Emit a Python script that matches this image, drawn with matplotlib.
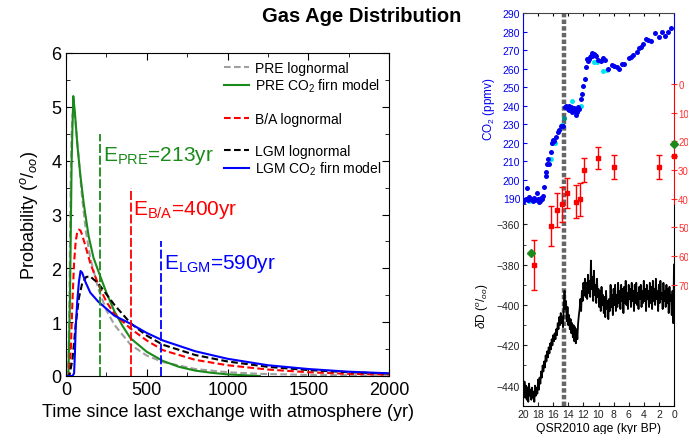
import matplotlib
matplotlib.use("Agg")
import matplotlib.pyplot as plt
from matplotlib.lines import Line2D
from matplotlib.ticker import MultipleLocator

plt.rcParams['font.family'] = ['Liberation Sans', 'DejaVu Sans']
plt.rcParams['mathtext.fontset'] = 'custom'
plt.rcParams['mathtext.rm'] = 'Liberation Sans'
plt.rcParams['mathtext.it'] = 'Liberation Sans:italic'
plt.rcParams['mathtext.bf'] = 'Liberation Sans:bold'

# ---------------- left panel data (years, probability per mil) ----------------
pre_logn_t = [0, 10, 15, 20, 25, 30, 35, 40, 50, 60, 80, 100, 125, 150, 200, 250, 300, 400, 500, 600, 800, 1000, 1200, 1500, 2000]
pre_logn_p = [0, 0, 0.3, 1.2, 2.6, 3.8, 4.5, 4.85, 4.95, 4.7, 4.0, 3.3, 2.65, 2.2, 1.62, 1.22, 0.95, 0.58, 0.38, 0.26, 0.13, 0.07, 0.04, 0.02, 0.01]

pre_firn_t = [0, 15, 25, 35, 45, 55, 70, 90, 110, 140, 170, 200, 250, 300, 350, 400, 500, 600, 700, 800, 900, 1000, 1100, 1200]
pre_firn_p = [0, 0, 1.5, 4.0, 5.2, 4.9, 4.3, 3.7, 3.2, 2.6, 2.2, 1.95, 1.55, 1.2, 0.93, 0.7, 0.45, 0.28, 0.17, 0.1, 0.06, 0.03, 0.015, 0.0]

ba_logn_t = [0, 20, 30, 40, 50, 60, 70, 80, 90, 100, 120, 150, 200, 250, 300, 400, 500, 600, 800, 1000, 1250, 1500, 1750, 2000]
ba_logn_p = [0, 0, 0.5, 1.4, 2.1, 2.5, 2.68, 2.72, 2.7, 2.62, 2.42, 2.1, 1.7, 1.38, 1.15, 0.88, 0.66, 0.48, 0.3, 0.2, 0.12, 0.07, 0.04, 0.025]

lgm_logn_t = [0, 20, 40, 60, 80, 100, 125, 150, 200, 250, 300, 400, 500, 600, 800, 1000, 1250, 1500, 1750, 2000]
lgm_logn_p = [0, 0, 0.3, 0.95, 1.45, 1.72, 1.84, 1.85, 1.72, 1.52, 1.32, 0.98, 0.75, 0.58, 0.39, 0.27, 0.17, 0.11, 0.07, 0.045]

lgm_firn_t = [0, 40, 50, 55, 60, 70, 80, 90, 100, 120, 150, 200, 250, 300, 400, 500, 600, 800, 1000, 1250, 1500, 1750, 2000]
lgm_firn_p = [0, 0, 0.05, 0.4, 0.9, 1.4, 1.75, 1.95, 1.92, 1.75, 1.55, 1.38, 1.25, 1.12, 0.97, 0.8, 0.66, 0.46, 0.32, 0.2, 0.13, 0.08, 0.05]

mean_ages = [213, 400, 590]
mean_tops = [4.5, 3.5, 2.5]
mean_names = ['PRE', 'B/A', 'LGM']
mean_colors = ['#1a8a1a', '#ff0000', '#0000ff']
mean_label_y = [4.1, 3.1, 2.1]

# ---------------- right panel data (kyr BP) ----------------
co2_age = [19.87, 19.5, 19.6, 19.2, 18.9, 18.5, 18.2, 18.05, 17.75, 17.5,
           17.3, 17.2, 16.95, 16.9, 16.8, 16.5, 16.3, 16.2, 15.9, 15.6,
           15.4, 15.2, 15.0, 14.75, 14.3, 13.95, 13.7, 13.4, 13.2, 13.0,
           12.8, 12.55, 12.36, 12.2, 12.0, 11.8, 11.65, 11.5, 11.25, 11.0,
           10.8, 10.6, 10.3, 10.07, 9.7, 9.45, 9.14, 8.74, 8.26, 7.95,
           7.6, 7.28, 6.93, 6.58, 6.0, 5.7, 5.4, 4.95, 4.6, 4.33,
           4.06, 3.75, 3.44, 3.05, 2.5, 1.94, 1.63, 1.19, 0.75, 0.4,
           14.45, 14.1, 13.85, 13.55, 13.3, 13.1, 12.9, 12.7, 11.4, 11.1,
           10.9, 10.45, 19.95, 19.35, 18.7, 18.35, 17.9, 17.6, 16.7, 16.05]
co2_ppm = [188.9, 195.5, 189.5, 190.4, 189.5, 190.0, 193.0, 189.5, 188.2, 189.5,
           191.3, 195.8, 202.0, 203.9, 208.4, 208.4, 214.7, 219.7, 221.0, 222.8,
           225.5, 227.0, 228.7, 229.1, 239.5, 239.5, 239.0, 237.2, 238.1, 234.9,
           238.1, 238.1, 243.5, 246.2, 250.4, 254.3, 260.6, 265.1, 265.1, 266.6,
           268.2, 267.8, 266.9, 264.8, 264.2, 265.5, 264.6, 259.7, 262.0, 261.5,
           261.0, 260.0, 262.3, 262.4, 265.7, 266.0, 267.5, 268.7, 271.3, 271.8,
           273.2, 275.8, 275.2, 275.0, 279.0, 277.2, 280.0, 277.7, 280.0, 281.9,
           239.0, 238.0, 237.5, 236.5, 238.5, 237.0, 236.5, 239.0, 264.0, 266.0,
           267.0, 267.5, 188.0, 189.0, 188.5, 189.0, 188.0, 190.0, 211.0, 221.5]

cyan_age = [19.25, 18.0, 16.35, 16.1, 15.7, 14.9, 13.55, 12.3, 10.6, 10.15, 9.36, 8.9]
cyan_ppm = [188.6, 188.8, 211.0, 219.7, 220.0, 229.5, 242.3, 239.5, 263.3, 263.3, 258.8, 259.4]

teal_age = [14.57]
teal_ppm = [233.2]

red_age = [18.5, 16.3, 15.5, 14.8, 14.2, 13.0, 12.4, 11.9, 10.1, 7.9, 1.95, 0.0]
red_val = [63.0, 49.6, 44.0, 42.0, 38.0, 41.0, 40.2, 30.0, 25.8, 29.0, 29.0, 25.0]
red_err = [8.7, 7.0, 6.0, 6.0, 5.2, 5.8, 5.8, 4.2, 3.7, 4.2, 4.2, 0.0]

green_age = [19.0, 0.0]
green_val = [59.0, 21.0]

event_age = 14.6

dD_age = [20.0, 19.9, 19.8, 19.7, 19.6, 19.5, 19.4, 19.3, 19.2, 19.1,
          19.0, 18.9, 18.8, 18.7, 18.6, 18.5, 18.4, 18.3, 18.2, 18.1,
          18.0, 17.9, 17.8, 17.7, 17.6, 17.5, 17.4, 17.3, 17.2, 17.1,
          17.0, 16.9, 16.8, 16.7, 16.6, 16.5, 16.4, 16.3, 16.2, 16.1,
          16.0, 15.9, 15.8, 15.7, 15.6, 15.5, 15.4, 15.3, 15.2, 15.1,
          15.0, 14.9, 14.8, 14.7, 14.6, 14.5, 14.4, 14.3, 14.2, 14.1,
          14.0, 13.9, 13.8, 13.7, 13.6, 13.5, 13.4, 13.3, 13.2, 13.1,
          13.0, 12.9, 12.8, 12.7, 12.6, 12.5, 12.4, 12.3, 12.2, 12.1,
          12.0, 11.9, 11.8, 11.7, 11.6, 11.5, 11.4, 11.3, 11.2, 11.1,
          11.0, 10.9, 10.8, 10.7, 10.6, 10.5, 10.4, 10.3, 10.2, 10.1,
          10.0, 9.9, 9.8, 9.7, 9.6, 9.5, 9.4, 9.3, 9.2, 9.1,
          9.0, 8.9, 8.8, 8.7, 8.6, 8.5, 8.4, 8.3, 8.2, 8.1,
          8.0, 7.9, 7.8, 7.7, 7.6, 7.5, 7.4, 7.3, 7.2, 7.1,
          7.0, 6.9, 6.8, 6.7, 6.6, 6.5, 6.4, 6.3, 6.2, 6.1,
          6.0, 5.9, 5.8, 5.7, 5.6, 5.5, 5.4, 5.3, 5.2, 5.1,
          5.0, 4.9, 4.8, 4.7, 4.6, 4.5, 4.4, 4.3, 4.2, 4.1,
          4.0, 3.9, 3.8, 3.7, 3.6, 3.5, 3.4, 3.3, 3.2, 3.1,
          3.0, 2.9, 2.8, 2.7, 2.6, 2.5, 2.4, 2.3, 2.2, 2.1,
          2.0, 1.9, 1.8, 1.7, 1.6, 1.5, 1.4, 1.3, 1.2, 1.1,
          1.0, 0.9, 0.8, 0.7, 0.6, 0.5, 0.4, 0.3, 0.2, 0.1,
          0.0]
dD_val = [-436, -444, -438, -446, -440, -447, -441, -448, -439, -445,
          -442, -447, -441, -446, -443, -448, -440, -445, -441, -444,
          -437, -442, -436, -439, -433, -436, -430, -433, -428, -431,
          -425, -428, -423, -426, -421, -424, -419, -422, -417, -420,
          -415, -418, -414, -417, -412, -415, -409, -412, -406, -410,
          -404, -409, -406, -411, -400, -393, -402, -398, -408, -401,
          -410, -405, -412, -407, -414, -409, -416, -410, -418, -411,
          -419, -412, -417, -409, -405, -402, -397, -403, -393, -398,
          -389, -395, -387, -396, -389, -397, -385, -394, -388, -396,
          -378, -392, -386, -398, -383, -395, -390, -399, -387, -396,
          -392, -401, -393, -403, -391, -400, -395, -404, -396, -406,
          -393, -402, -398, -407, -397, -403, -390, -401, -395, -405,
          -392, -400, -390, -403, -395, -401, -389, -399, -393, -402,
          -390, -398, -392, -404, -391, -399, -388, -400, -394, -402,
          -390, -397, -392, -401, -389, -398, -393, -403, -390, -399,
          -389, -400, -394, -402, -391, -397, -390, -401, -393, -399,
          -388, -398, -392, -403, -390, -397, -393, -401, -389, -399,
          -391, -402, -388, -398, -392, -400, -387, -397, -393, -403,
          -390, -399, -388, -397, -394, -402, -389, -398, -393, -401,
          -390, -399, -392, -404, -391, -398, -395, -405, -393, -409,
          -380]

co2_ticks = [190, 200, 210, 220, 230, 240, 250, 260, 270, 280, 290]
red_ticks = [0, 10, 20, 30, 40, 50, 60, 70]
red_ticklabels = ['0', '10', '20', '30', '40', '50', '60', '70']
dD_ticks = [-440, -420, -400, -380, -360]
age_ticks = [20, 18, 16, 14, 12, 10, 8, 6, 4, 2, 0]

# ---------------- figure ----------------
W, H = 688, 435
fig = plt.figure(figsize=(W / 100, H / 100), dpi=100)


def rect(x0, y0, x1, y1):
    return [x0 / W, 1 - y1 / H, (x1 - x0) / W, (y1 - y0) / H]


# ---- left panel ----
ax = fig.add_axes(rect(66, 54, 389, 377))
dash = (0, (3.2, 1.6))
ax.plot(pre_logn_t, pre_logn_p, color='#a0a0a0', lw=1.5, ls=dash, label='PRE lognormal')
ax.plot(pre_firn_t, pre_firn_p, color='#1a8a1a', lw=1.5, label='PRE CO$_2$ firn model')
ax.plot(ba_logn_t, ba_logn_p, color='#ff0000', lw=1.5, ls=dash, label='B/A lognormal')
ax.plot(lgm_logn_t, lgm_logn_p, color='black', lw=1.5, ls=dash, label='LGM lognormal')
ax.plot(lgm_firn_t, lgm_firn_p, color='#0000ff', lw=1.5, label='LGM CO$_2$ firn model')
for a, top, c in zip(mean_ages, mean_tops, mean_colors):
    ax.plot([a, a], [0, top], color=c, lw=1.3, ls=(0, (5, 1.5)))
for a, yl, nm, c in zip(mean_ages, mean_label_y, mean_names, mean_colors):
    ax.text(a + 15, yl, 'E$_{\\mathrm{%s}}$=%dyr' % (nm, a), color=c, fontsize=15,
            va='center', ha='left')

ax.set_xlim(0, 2000)
ax.set_ylim(0, 6)
ax.xaxis.set_major_locator(MultipleLocator(500))
ax.xaxis.set_minor_locator(MultipleLocator(250))
ax.yaxis.set_major_locator(MultipleLocator(1))
ax.yaxis.set_minor_locator(MultipleLocator(0.5))
ax.tick_params(which='both', direction='in', top=True, right=True, labelsize=13)
ax.tick_params(which='major', length=5)
ax.tick_params(which='minor', length=3)
ax.set_xlabel('Time since last exchange with atmosphere (yr)', fontsize=13, labelpad=4)
ax.set_ylabel('Probability ($^o/_{oo}$)', fontsize=13, labelpad=8)

blank = Line2D([], [], color='none', label=' ')
h, l = ax.get_legend_handles_labels()
handles = [h[0], h[1], blank, h[2], blank, h[3], h[4]]
labels = [l[0], l[1], ' ', l[2], ' ', l[3], l[4]]
ax.legend(handles, labels, loc='upper right', frameon=False, fontsize=10,
          handlelength=1.8, handletextpad=0.4, labelspacing=0.14,
          bbox_to_anchor=(1.0, 1.0), borderaxespad=0.15)

fig.text(362 / W, 1 - 16 / H, 'Gas Age Distribution', fontsize=14.5, fontweight='bold',
         ha='center', va='center')

# ---- right panel ----
X0, X1 = 523, 674
axd = fig.add_axes(rect(X0, 205, X1, 407))
axc = fig.add_axes(rect(X0, 14, X1, 205))
axr = fig.add_axes(rect(X0, 85, X1, 300))
for a_ in (axd, axc, axr):
    a_.patch.set_visible(False)
    a_.set_xlim(20, 0)

# CO2
axc.plot(co2_age, co2_ppm, 'o', color='#0000ee', ms=3.6, mec='none', zorder=3)
axc.plot(cyan_age, cyan_ppm, 'o', color='#00e5ee', ms=3.6, mec='none', zorder=2)
axc.plot(teal_age, teal_ppm, 'o', color='#008b8b', ms=3.6, mec='none', zorder=4)
axc.axvline(event_age, color='#666666', lw=3.2, ls=(0, (1, 0.5)), zorder=1)
axc.set_ylim(186.8, 290)
axc.set_yticks(co2_ticks)
axc.tick_params(axis='y', colors='#0000ee', labelsize=7.5, direction='in', length=3, pad=2)
axc.set_xticks(age_ticks)
axc.tick_params(axis='x', direction='in', top=True, bottom=False, labeltop=False,
                labelbottom=False, length=2.5)
axc.spines['bottom'].set_visible(False)
axc.spines['left'].set_color('#0000ee')
axc.spines['right'].set_color('#0000ee')
axc.spines['right'].set_bounds(251.6, 290)
axc.spines['top'].set_color('#444444')
axc.set_ylabel('CO$_2$ (ppmv)', color='#0000ee', fontsize=8.5, labelpad=4)

# dD
axd.plot(dD_age, dD_val, color='black', lw=1.3)
axd.axvline(event_age, color='#666666', lw=3.2, ls=(0, (1, 0.5)), zorder=1)
axd.set_ylim(-450.1, -349.9)
axd.set_yticks(dD_ticks)
axd.yaxis.set_minor_locator(MultipleLocator(10))
axd.set_xticks(age_ticks)
axd.tick_params(which='both', direction='in', labelsize=7.5, colors='#222222', pad=2)
axd.tick_params(which='major', length=3)
axd.tick_params(which='minor', length=2)
axd.spines['top'].set_visible(False)
axd.set_xlabel('QSR2010 age (kyr BP)', fontsize=8.7, labelpad=2)
axd.set_ylabel('$\\delta$D ($^o/_{oo}$)', fontsize=8.5, labelpad=4)

# red axis
axr.errorbar(red_age, red_val, yerr=red_err, fmt='s', color='#ff0000', ms=3.5,
             ecolor='#ff0000', elinewidth=1.0, capsize=2, zorder=3, clip_on=False)
axr.plot(green_age, green_val, 'D', color='#1a8a1a', ms=4, zorder=4, clip_on=False)
axr.set_ylim(75, 0)
axr.yaxis.tick_right()
axr.set_yticks(red_ticks)
axr.set_yticklabels(red_ticklabels)
axr.tick_params(axis='y', colors='#ff3030', labelsize=7, direction='inout', length=4, pad=1)
axr.tick_params(axis='x', bottom=False, labelbottom=False)
for s in ('left', 'top', 'bottom'):
    axr.spines[s].set_visible(False)
axr.spines['right'].set_color('#ff0000')
axr.spines['right'].set_bounds(0, 42)

fig.savefig('out.png', dpi=100)
